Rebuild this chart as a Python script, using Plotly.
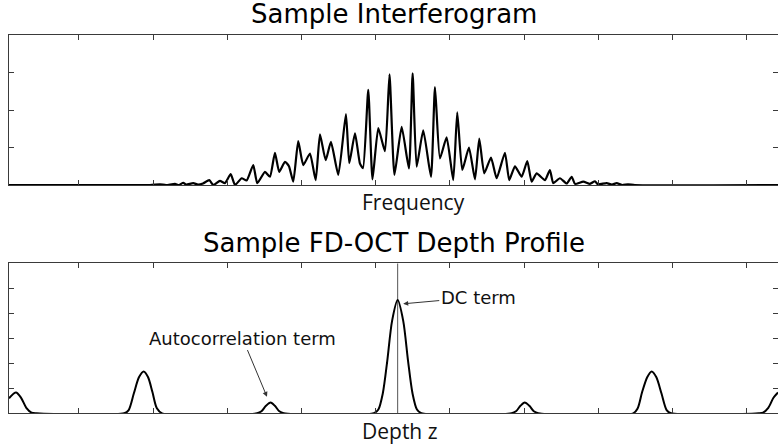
import plotly.graph_objects as go

# ---------------- data ----------------
# Interferogram (top panel): frequency index vs. intensity
freq_x = [5.7, 195.7, 209.2, 217.3, 229.4, 234.8, 240.6, 244.2, 254.0, 260.4,
          267.1, 275.6, 281.0, 290.0, 296.7, 304.5, 310.3, 319.3, 326.0, 334.9,
          340.3, 350.7, 357.4, 364.1, 369.9, 377.6, 383.0, 388.8, 395.5, 402.3,
          411.3, 419.0, 424.8, 432.5, 439.6, 449.5, 459.8, 464.3, 472.0, 478.7,
          482.8, 489.9, 495.6, 503.4, 512.4, 518.5, 525.2, 534.9, 544.7, 549.7,
          555.1, 564.0, 574.4, 579.8, 586.5, 595.5, 604.4, 609.8, 616.6, 625.6,
          633.7, 639.5, 646.2, 655.3, 662.9, 674.1, 679.9, 687.6, 696.6, 704.2,
          710.1, 716.8, 728.0, 734.7, 739.2, 748.2, 757.3, 764.0, 768.5, 779.7,
          788.7, 795.4, 799.4, 811.2, 818.3, 824.7, 831.8, 839.9, 849.3, 1042.1]
interf_y = [0.00, 0.00, 0.02, 0.00, 0.03, 0.00, 0.06, 0.01, 0.05, 0.01,
            0.04, 0.13, 0.00, 0.11, 0.05, 0.29, 0.00, 0.18, 0.12, 0.53,
            0.05, 0.35, 0.22, 0.86, 0.35, 0.62, 0.50, 0.09, 1.17, 0.53,
            0.84, 0.13, 1.35, 0.66, 1.15, 0.27, 1.89, 0.58, 1.38, 0.57,
            0.45, 2.54, 0.15, 1.52, 0.90, 2.95, 0.27, 1.55, 0.44, 2.98,
            0.49, 1.46, 0.22, 2.61, 0.71, 1.27, 0.13, 1.94, 0.40, 1.00,
            0.15, 1.24, 0.31, 0.73, 0.18, 0.86, 0.13, 0.50, 0.22, 0.64,
            0.09, 0.31, 0.13, 0.40, 0.05, 0.18, 0.04, 0.22, 0.03, 0.09,
            0.03, 0.10, 0.02, 0.05, 0.01, 0.05, 0.00, 0.02, 0.00, 0.00]

# FD-OCT depth profile (bottom panel): depth vs. amplitude
depth_x = [5.7, 15.1, 22.0, 29.0, 36.0, 43.0,
           161.0, 167.0, 174.0, 181.0, 187.2, 193.0, 199.0, 205.0, 212.0,
           340.0, 346.0, 352.0, 358.3, 364.0, 370.0, 376.0,
           497.5, 503.5, 509.5, 515.5, 522.0, 529.5, 537.0, 543.5, 549.5, 555.5, 561.5,
           683.0, 689.0, 695.0, 700.7, 707.0, 713.0, 719.0,
           847.0, 853.0, 859.0, 866.0, 871.8, 878.0, 885.0, 892.0, 898.0,
           1016.0, 1022.0, 1029.0, 1036.0, 1042.1]
depth_y = [0.60, 0.83, 0.62, 0.22, 0.03, 0.00,
           0.00, 0.13, 0.80, 1.45, 1.67, 1.45, 0.85, 0.20, 0.00,
           0.00, 0.08, 0.30, 0.43, 0.30, 0.08, 0.00,
           0.00, 0.15, 0.80, 2.10, 3.70, 4.53, 3.70, 2.10, 0.80, 0.15, 0.00,
           0.00, 0.08, 0.30, 0.43, 0.30, 0.08, 0.00,
           0.00, 0.20, 0.85, 1.45, 1.67, 1.45, 0.80, 0.13, 0.00,
           0.00, 0.03, 0.22, 0.62, 0.83]

x_range = [5.7, 1042.1]
top_y_range = [0, 4]
bottom_y_range = [0, 6]

titles = ["Sample Interferogram", "Sample FD-OCT Depth Profile"]
axis_labels = ["Frequency", "Depth z"]

# ---------------- figure ----------------
W, H = 778, 446
AXC = "#3a3a3a"
TITLE_FONT = dict(family="DejaVu Sans, Arial, sans-serif", size=26, color="#000")
LABEL_FONT = dict(family="Open Sans, Noto Sans, sans-serif", size=21, color="#111")
NOTE_FONT = dict(family="DejaVu Sans, Arial, sans-serif", size=18, color="#111")

fig = go.Figure()

fig.add_trace(go.Scatter(x=freq_x, y=interf_y, mode="lines",
                         line=dict(color="black", width=2.2, shape="spline", smoothing=0.5),
                         xaxis="x", yaxis="y", showlegend=False, hoverinfo="skip"))

# vertical line marking the DC position (position of the profile maximum)
dc_x = depth_x[depth_y.index(max(depth_y))]
fig.add_trace(go.Scatter(x=[dc_x, dc_x], y=bottom_y_range, mode="lines",
                         line=dict(color="#555555", width=1),
                         xaxis="x2", yaxis="y2", showlegend=False, hoverinfo="skip"))

fig.add_trace(go.Scatter(x=depth_x, y=depth_y, mode="lines",
                         line=dict(color="black", width=2, shape="spline", smoothing=0.8),
                         xaxis="x2", yaxis="y2", showlegend=False, hoverinfo="skip"))

axis_common = dict(showline=True, linecolor=AXC, linewidth=1, mirror="allticks",
                   ticks="inside", ticklen=5, tickcolor=AXC, tickwidth=1,
                   showticklabels=False, showgrid=False, zeroline=False)

fig.update_layout(
    width=W, height=H,
    margin=dict(l=9, r=0, t=0, b=0, pad=0),
    paper_bgcolor="white", plot_bgcolor="white",
    xaxis=dict(domain=[0, 1], range=x_range, tick0=0, dtick=100, anchor="y", **axis_common),
    yaxis=dict(domain=[0.5852, 0.9215], range=top_y_range, dtick=1, anchor="x", **axis_common),
    xaxis2=dict(domain=[0, 1], range=x_range, tick0=0, dtick=100, anchor="y2", **axis_common),
    yaxis2=dict(domain=[0.0733, 0.4096], range=bottom_y_range, dtick=1, anchor="x2", **axis_common),
)

annotations = [
    dict(text=titles[0], xref="paper", yref="paper", x=0.5, y=0.9686,
         xanchor="center", yanchor="middle", showarrow=False, font=TITLE_FONT),
    dict(text=titles[1], xref="paper", yref="paper", x=0.5, y=0.4552,
         xanchor="center", yanchor="middle", showarrow=False, font=TITLE_FONT),
    dict(text=axis_labels[0], xref="paper", yref="paper", x=0.457, y=0.5471,
         xanchor="left", yanchor="middle", showarrow=False, font=LABEL_FONT),
    dict(text=axis_labels[1], xref="paper", yref="paper", x=0.457, y=0.0343,
         xanchor="left", yanchor="middle", showarrow=False, font=LABEL_FONT),
    dict(text="DC term", xref="x2", yref="y2", x=537, y=4.38,
         axref="x2", ayref="y2", ax=638.1, ay=4.65,
         showarrow=True, arrowhead=2, arrowsize=1, arrowwidth=1, arrowcolor="#333",
         font=NOTE_FONT, standoff=0, startstandoff=0),
    dict(text="Autocorrelation term", xref="x2", yref="y2", x=353.4, y=0.66,
         axref="x2", ayref="y2", ax=320.3, ay=3.01,
         showarrow=True, arrowhead=2, arrowsize=1, arrowwidth=1, arrowcolor="#333",
         font=NOTE_FONT, standoff=0, startstandoff=0),
]
fig.update_layout(annotations=annotations)

fig.write_html("out.html")
